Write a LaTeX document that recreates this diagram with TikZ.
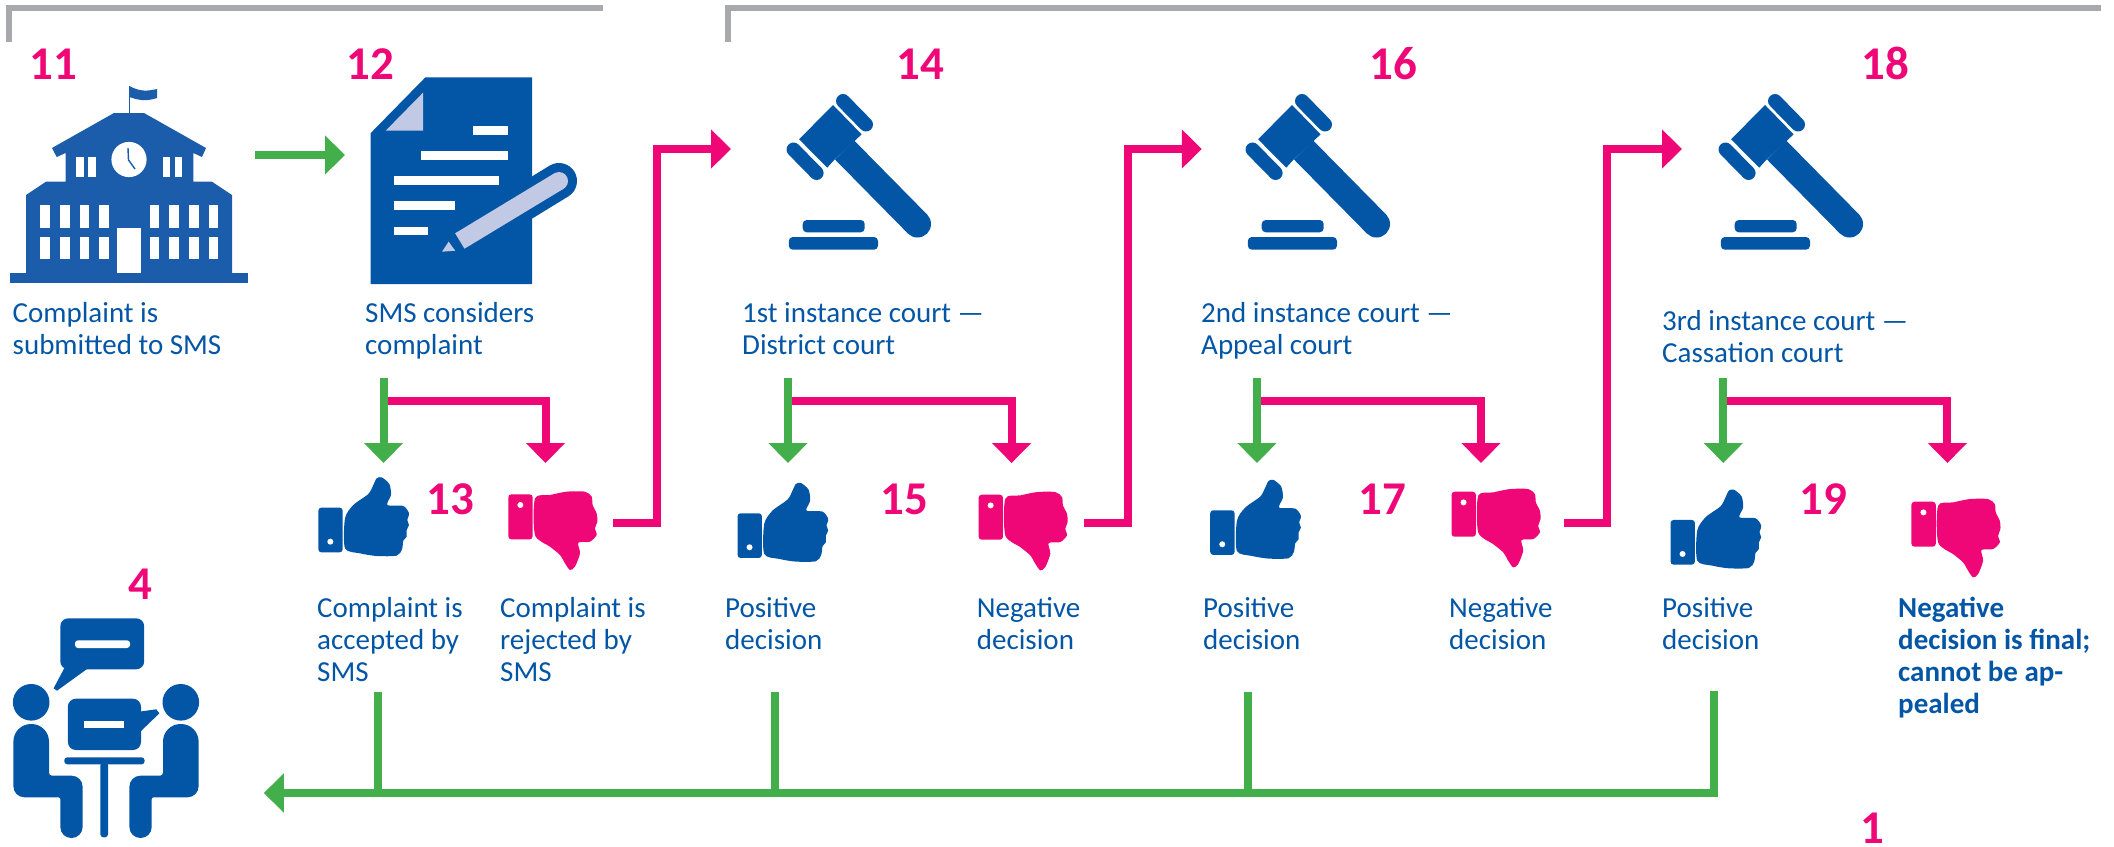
\documentclass[tikz,border=0pt]{standalone}
\usepackage{fontspec}
\setmainfont{Carlito}
\usetikzlibrary{arrows.meta}
\definecolor{pk}{HTML}{EF0677}
\definecolor{bl}{HTML}{0356A5}
\definecolor{bl2}{HTML}{1B5CAB}
\definecolor{gn}{HTML}{42AF4B}
\definecolor{gy}{HTML}{A7A9AC}
\definecolor{li}{HTML}{C2C9E5}
\tikzset{
  gline/.style={draw=gn,line width=8pt},
  pline/.style={draw=pk,line width=8pt},
  garrow/.style={gline,-{Triangle[length=20pt,width=38pt]}},
  parrow/.style={pline,-{Triangle[length=20pt,width=38pt]}},
  grey/.style={draw=gy,line width=6pt},
  num/.style={anchor=base,inner sep=0pt,text=pk,font=\fontsize{47}{50}\selectfont\bfseries},
  lab/.style={anchor=north west,inner sep=0pt,align=left,text=bl,font=\fontsize{29}{32}\selectfont},
}
\newcommand{\lbl}[4]{\node[lab,#1] at (#2,#3-24) {\rule{0pt}{24pt}#4};}
\newcommand{\iconup}[3][bl]{\begin{scope}[shift={(#2,#3)},x=.3333pt,y=-.3333pt]
  \fill[#1,rounded corners=3pt] (25,113) rectangle (98,247);
  \fill[white] (61,215) circle (9);
  \fill[#1] plot[smooth cycle,tension=.45] coordinates {(105,145) (130,105) (175,72) (190,45) (200,25) (215,22) (238,42) (243,75) (232,105) (280,108) (297,130) (292,150) (297,165) (290,180) (290,200) (280,212) (276,238) (260,257) (200,258) (150,250) (105,235)};
\end{scope}}
\newcommand{\icondown}[3][pk]{\begin{scope}[shift={(#2,#3)},x=.3333pt,y=-.3333pt]
  \fill[#1,rounded corners=3pt] (25,43) rectangle (98,178);
  \fill[white] (61,75) circle (9);
  \fill[#1] plot[smooth cycle,tension=.45] coordinates {(105,55) (150,45) (200,35) (255,35) (275,50) (278,75) (290,100) (292,125) (285,145) (290,165) (270,185) (235,188) (240,220) (225,260) (210,270) (195,250) (180,225) (150,200) (105,165)};
\end{scope}}
\newcommand{\gavelicon}[1]{\begin{scope}[shift={(#1,0)}]
  \fill[bl] (799.1,139.3) -- (833,105) -- (861.6,134.3) -- (854.5,141) -- (834.8,159.3) -- (827.2,167.7) -- cycle;
  \draw[bl,line width=27pt] (844.6,150) -- (917.5,224);
  \fill[bl] (917.5,224) circle (13.5);
  \draw[bl,line width=14pt,line cap=round] (843,101) -- (866,124.5);
  \draw[bl,line width=14pt,line cap=round] (793.5,149.5) -- (816.6,173);
  \fill[bl,rounded corners=4pt] (802.7,232.3) -- (802.7,220) -- (864.7,220) -- (864.7,232.3) -- cycle;
  \fill[bl,rounded corners=4pt] (788.8,249.7) -- (788.8,237) -- (878,237) -- (878,249.7) -- cycle;
\end{scope}}
\begin{document}
\begin{tikzpicture}[x=1pt,y=-1pt]
\useasboundingbox (0,0) rectangle (2114,846);
% grey brackets
\coordinate (ga) at (9,42); \coordinate (gb) at (9,8); \coordinate (gc) at (603,8);
\coordinate (gd) at (727.7,42); \coordinate (ge) at (727.7,8); \coordinate (gf) at (2101,8);
\draw[grey] (ga) -- (gb) -- (gc);
\draw[grey] (gd) -- (ge) -- (gf);
% building
\fill[bl2] (10.3,273) rectangle (247.8,283);
\fill[bl2] (26,274) -- (26,195) -- (46,181.7) -- (65.6,181.7) -- (65.6,153) -- (56.7,157) -- (52,148) -- (114,113) -- (144,113) -- (206,148) -- (202,157) -- (193.3,153) -- (193.3,181.7) -- (212,181.7) -- (232,195) -- (232,274) -- cycle;
\draw[bl2,line width=1.6pt] (129.5,114) -- (129.5,86);
\fill[bl2] (129.5,86) .. controls (140,92) and (148,91) .. (157,89) -- (157,98) .. controls (148,101) and (140,101) .. (129.5,97) -- cycle;
\fill[white] (129,159.5) circle (17.6);
\draw[bl2,line width=1.4pt] (128,148) -- (128.5,160) -- (135,169);
\foreach \a/\b in {76.3/83.5,88/95.5,163/170,174.5/182} \fill[white] (\a,157) rectangle (\b,177);
\foreach \a/\b in {40.2/50,59.8/69.6,79.5/89.3,99.1/108.9,149.5/159.4,169.2/179,188.8/198.6,208.5/218.3} {
  \fill[white] (\a,205) rectangle (\b,227.7);
  \fill[white] (\a,236.7) rectangle (\b,259.3);
}
\fill[white] (117,228) rectangle (141,272.7);
% document
\fill[bl] (425.4,77.3) -- (532,77.3) -- (532,284) -- (370.5,284) -- (370.5,133.3) -- cycle;
\fill[li] (423,92.7) -- (423,130.7) -- (385.7,130.7) -- cycle;
\fill[white] (473,126.3) rectangle (507.6,135);
\fill[white] (420.5,151) rectangle (507.6,160);
\fill[white] (394,176.3) rectangle (499,185.3);
\fill[white] (394,201.3) rectangle (455,210.3);
\fill[white] (394,226.7) rectangle (427.6,235.3);
\draw[bl,line width=36pt,line cap=round] (510,211) -- (559,181);
\draw[li,line width=18pt] (459.8,241) -- (559,181);
\fill[li] (559,181) circle (9);
\fill[li] (448.6,241.7) -- (442,251.7) -- (455.3,250.7) -- cycle;
% gavels
\gavelicon{0}\gavelicon{459}\gavelicon{932}
% thumbs
\iconup{310}{470}\iconup{729.2}{475.6}\iconup{1201.9}{472.6}\iconup{1662.2}{482.3}
\icondown{500}{480}\icondown{970.3}{480.4}\icondown{1443.2}{477.4}\icondown{1903.1}{487.4}
% people
\fill[bl,rounded corners=8pt] (60.3,618.3) rectangle (144.2,669.3);
\fill[bl] (66,665) -- (53.6,688.3) -- (57,690.7) -- (87,669) -- cycle;
\fill[white,rounded corners=3pt] (75,640.3) rectangle (130,648);
\fill[bl,rounded corners=8pt] (67.9,698.7) rectangle (141,750);
\fill[bl] (139,711.7) -- (156.2,709.3) -- (159.4,713.3) -- (139,733) -- cycle;
\fill[white] (84.4,720.7) rectangle (123.7,728);
\foreach \m/\s in {0/1,212/-1} {
  \begin{scope}[shift={(\m,0)},x=\s pt]
    \fill[bl] (31.2,702.3) circle[radius=18.3];
    \fill[bl] (13.4,745) [rounded corners=17.5pt] -- (13.4,724) -- (49,724) [rounded corners=3pt] -- (49,775.7) [rounded corners=11pt] -- (82.6,775.7) -- (82.6,838) -- (60.3,838) [rounded corners=2pt] -- (60.3,797.3) [rounded corners=11pt] -- (13.4,797.3) [sharp corners] -- cycle;
  \end{scope}
}
\fill[bl,rounded corners=3pt] (64.3,757.3) rectangle (144.6,764.3);
\fill[bl,rounded corners=3pt] (100.4,762) rectangle (108,837.3);
% connectors
\coordinate (a0) at (255,155); \coordinate (a1) at (345,155);
\draw[garrow] (a0) -- (a1);
\foreach \n/\g/\p in {b/383.5/545.5,c/788/1011.6,d/1257/1481,e/1723.3/1947.4} {
  \coordinate (\n g0) at (\g,378); \coordinate (\n g1) at (\g,463);
  \coordinate (\n p0) at (\g,401); \coordinate (\n p1) at (\p,401); \coordinate (\n p2) at (\p,463);
  \draw[parrow] (\n p0) -- (\n p1) -- (\n p2);
  \draw[garrow] (\n g0) -- (\n g1);
}
\foreach \n/\s/\m/\t in {f/613.4/657/731,g/1084/1127.7/1201.8,h/1564/1607/1682} {
  \coordinate (\n 0) at (\s,523); \coordinate (\n 1) at (\m,523); \coordinate (\n 2) at (\m,149); \coordinate (\n 3) at (\t,149);
  \draw[parrow] (\n 0) -- (\n 1) -- (\n 2) -- (\n 3);
}
\coordinate (k0) at (1713.8,690.7); \coordinate (k1) at (1713.8,793); \coordinate (k2) at (263.8,793);
\draw[garrow] (k0) -- (k1) -- (k2);
\foreach \n/\x in {m/378,o/775.4,q/1248} {
  \coordinate (\n 0) at (\x,692); \coordinate (\n 1) at (\x,793);
  \draw[gline] (\n 0) -- (\n 1);
}
% numbers
\node[num] (n11) at (53.6,79) {11};
\node[num] (n12) at (370.5,79) {12};
\node[num] (n14) at (920.5,79) {14};
\node[num] (n16) at (1393,79) {16};
\node[num] (n18) at (1885,79) {18};
\node[num] (n13) at (450.4,514) {13};
\node[num] (n15) at (904,514) {15};
\node[num] (n17) at (1382,514) {17};
\node[num] (n19) at (1823.5,514) {19};
\node[num] (n4) at (140.6,599) {4};
\node[num] (n1) at (1872,843) {1};
% labels
\lbl{name=t1}{12.5}{322}{Complaint is\\submitted to SMS}
\lbl{name=t2}{365}{322}{SMS considers\\complaint}
\lbl{name=t3}{742}{322}{1st instance court —\\District court}
\lbl{name=t4}{1201}{322}{2nd instance court —\\Appeal court}
\lbl{name=t5}{1662}{330}{3rd instance court —\\Cassation court}
\lbl{name=t6}{317}{617}{Complaint is\\accepted by\\SMS}
\lbl{name=t7}{500}{617}{Complaint is\\rejected by\\SMS}
\lbl{name=t8}{725}{617}{Positive\\decision}
\lbl{name=t9}{976.7}{617}{Negative\\decision}
\lbl{name=t10}{1203}{617}{Positive\\decision}
\lbl{name=t11}{1449}{617}{Negative\\decision}
\lbl{name=t12}{1662}{617}{Positive\\decision}
\lbl{name=t13,font=\fontsize{29}{32}\selectfont\bfseries}{1898}{617}{Negative\\decision is final;\\cannot be ap-\\pealed}
\end{tikzpicture}
\end{document}
